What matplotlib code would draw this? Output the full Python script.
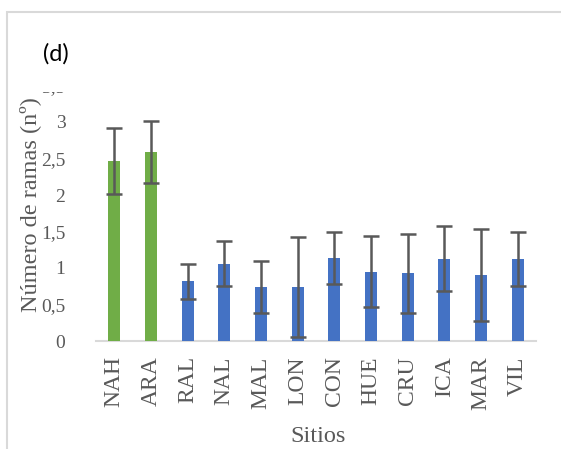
import matplotlib
matplotlib.use("Agg")
import matplotlib.pyplot as plt
from matplotlib.patches import Rectangle

sitios = ["NAH", "ARA", "RAL", "NAL", "MAL", "LON", "CON", "HUE", "CRU", "ICA", "MAR", "VIL"]
ramas = [2.47, 2.59, 0.82, 1.06, 0.74, 0.74, 1.14, 0.95, 0.93, 1.13, 0.91, 1.13]
errores = [0.45, 0.43, 0.24, 0.31, 0.35, 0.68, 0.36, 0.49, 0.54, 0.45, 0.63, 0.37]
grupo = ["g", "g", "b", "b", "b", "b", "b", "b", "b", "b", "b", "b"]
yticks = [0, 0.5, 1, 1.5, 2, 2.5, 3, 3.5]
ytick_labels = ["0", "0,5", "1", "1,5", "2", "2,5", "3", "3,5"]

colores = {"g": "#70AD47", "b": "#4472C4"}
W, H = 561, 449
fig = plt.figure(figsize=(W / 100, H / 100), dpi=100)

left, right, bottom, top = 96, 536, 341, 85.5
ax = fig.add_axes([left / W, (H - bottom) / H, (right - left) / W, (bottom - top) / H])

x = list(range(len(sitios)))
ax.bar(x, ramas, width=0.32, color=[colores[g] for g in grupo], zorder=2)
ax.errorbar(x, ramas, yerr=errores, fmt="none", ecolor="#595959", elinewidth=1.8,
            capsize=6, capthick=1.8, zorder=3)

ax.set_xlim(-0.5, len(sitios) - 0.5)
ax.set_ylim(0, 3.5)
ax.set_yticks(yticks)
ax.set_yticklabels(ytick_labels)
ax.set_xticks(x)
ax.set_xticklabels(sitios, rotation=90)

serif = "Liberation Serif"
gray = "#595959"
for lab in ax.get_yticklabels():
    lab.set_fontfamily(serif)
    lab.set_fontsize(14)
    lab.set_color(gray)
for lab in ax.get_xticklabels():
    lab.set_fontfamily(serif)
    lab.set_fontsize(17)
    lab.set_color(gray)

ax.tick_params(axis="y", length=0, pad=22)
ax.tick_params(axis="x", length=0, pad=11)

for s in ["top", "right", "left"]:
    ax.spines[s].set_visible(False)
ax.spines["bottom"].set_color("#D9D9D9")
ax.spines["bottom"].set_linewidth(1.5)
ax.spines["bottom"].set_zorder(1)

fig.text(30 / W, 1 - 205 / H, "Número de ramas (nº)", rotation=90, ha="center", va="center",
         fontfamily=serif, fontsize=17.5, color=gray)
fig.text(318 / W, 1 - 436 / H, "Sitios", ha="center", va="center",
         fontfamily=serif, fontsize=17.5, color=gray)
fig.text(56 / W, 1 - 54 / H, "(d)", ha="center", va="center",
         fontfamily="Lato", fontsize=17, color="black")

# clip the top of the 3,5 label
fig.add_artist(Rectangle((35 / W, 1 - 92 / H), 55 / W, 20 / H, transform=fig.transFigure,
                         facecolor="white", edgecolor="none", zorder=10))
# chart border
fig.add_artist(Rectangle((7 / W, -0.1), 1.2, 1 - 12 / H + 0.1, transform=fig.transFigure,
                         facecolor="none", edgecolor="#D9D9D9", linewidth=1.5, zorder=11))

fig.savefig("out.png", dpi=100)
